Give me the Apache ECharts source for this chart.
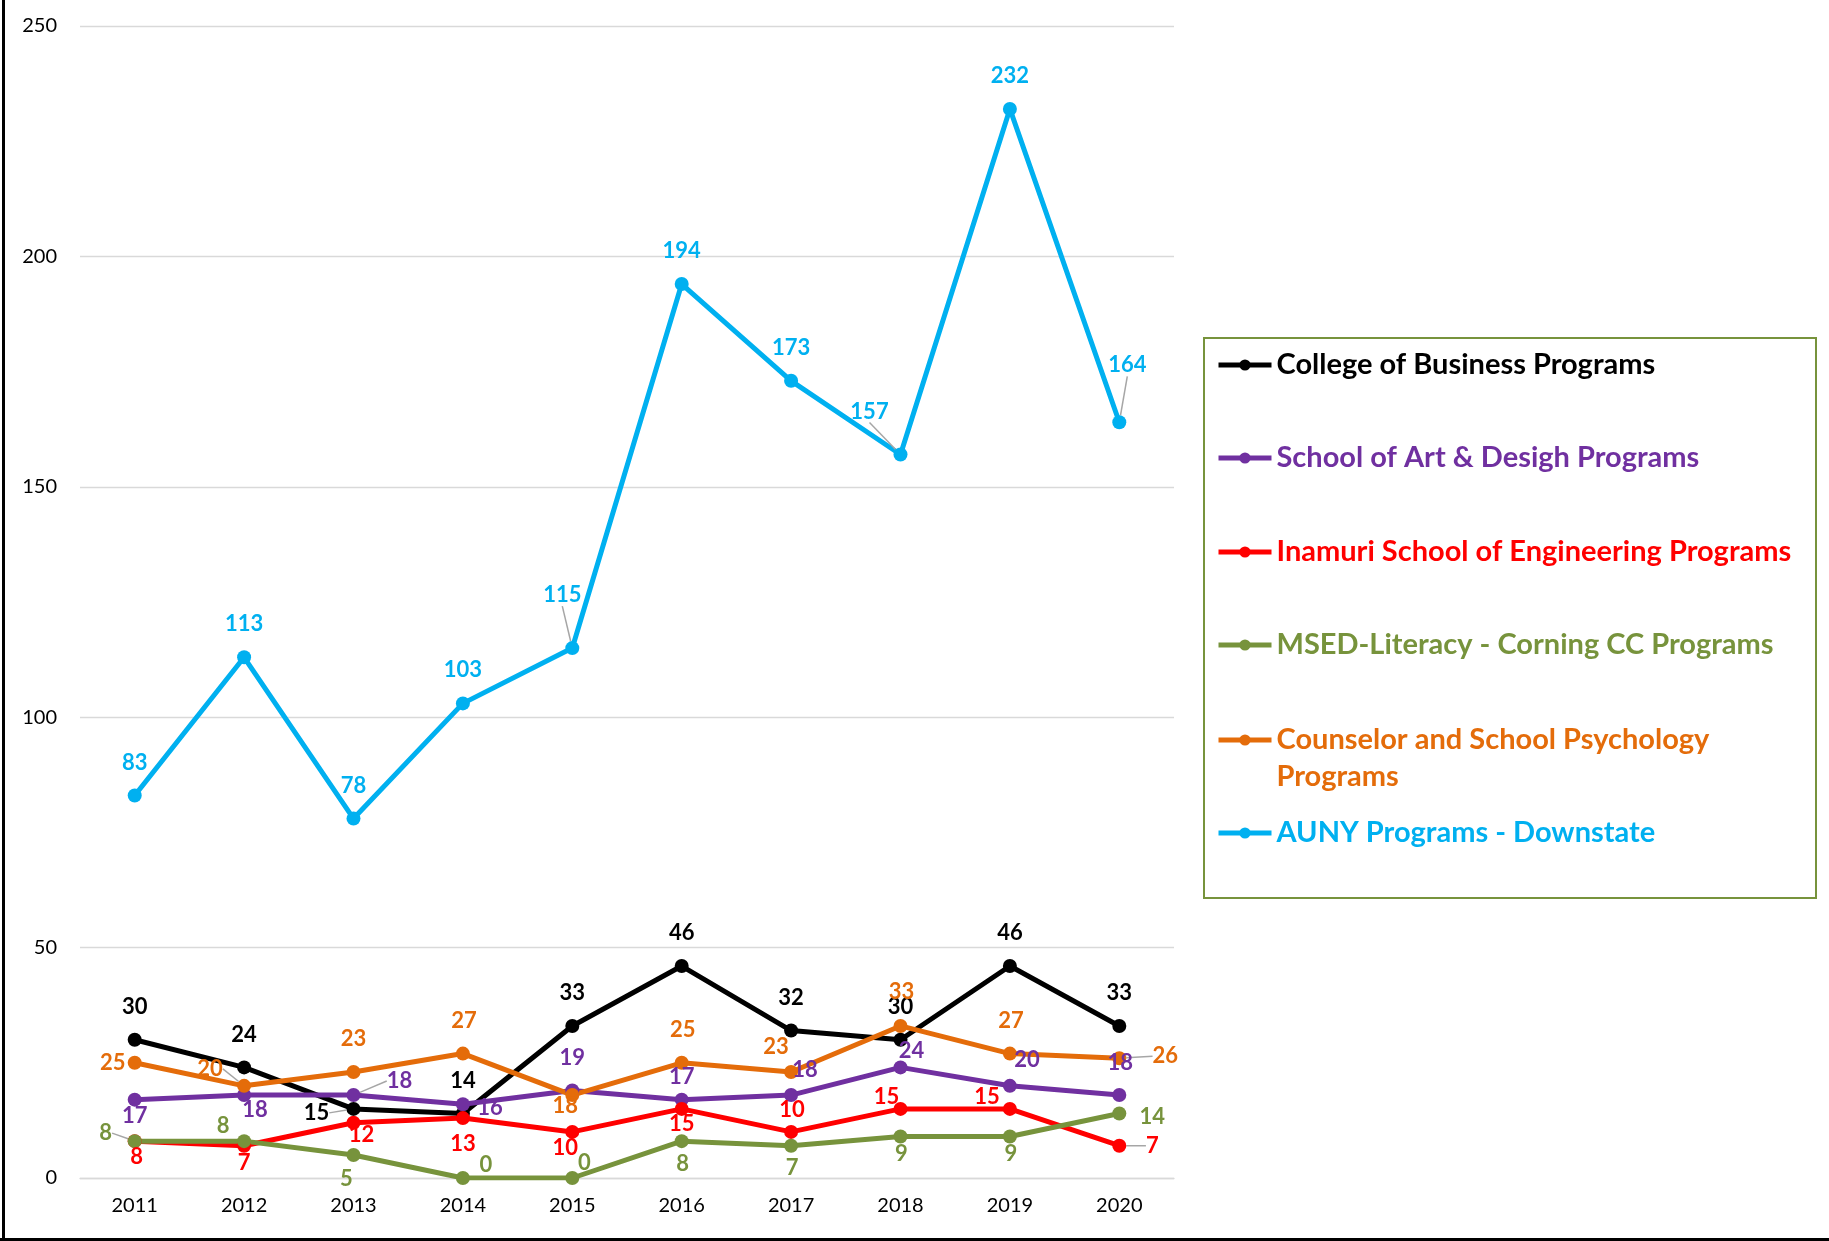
<!DOCTYPE html>
<html>
<head>
<meta charset="utf-8">
<script src="https://cdn.jsdelivr.net/npm/echarts@6/dist/echarts.min.js"></script>
<style>
  html, body { margin: 0; padding: 0; background: #fff; }
  #wrap { position: relative; width: 1829px; height: 1241px; }
  #chart { position: absolute; left: 0; top: 0; width: 1829px; height: 1241px; }
  #bl { position: absolute; left: 2px; top: 0; width: 3px; height: 1241px; background: #000; }
  #bb { position: absolute; left: 0; top: 1238px; width: 1829px; height: 3px; background: #000; }
</style>
</head>
<body>
<div id="wrap"><div id="chart"></div><div id="bl"></div><div id="bb"></div></div>
<script>
// ---------- DATA ----------
const categories = ['2011', '2012', '2013', '2014', '2015', '2016', '2017', '2018', '2019', '2020'];
const seriesNames = [
  'College of Business Programs',
  'School of Art & Desigh Programs',
  'Inamuri School of Engineering Programs',
  'MSED-Literacy - Corning CC Programs',
  'Counselor and School Psychology Programs',
  'AUNY Programs - Downstate'
];
const collegeBusiness = [30, 24, 15, 14, 33, 46, 32, 30, 46, 33];
const artDesign       = [17, 18, 18, 16, 19, 17, 18, 24, 20, 18];
const inamuriEng      = [8, 7, 12, 13, 10, 15, 10, 15, 15, 7];
const msedLiteracy    = [8, 8, 5, 0, 0, 8, 7, 9, 9, 14];
const counselorPsych  = [25, 20, 23, 27, 18, 25, 23, 33, 27, 26];
const aunyDownstate   = [83, 113, 78, 103, 115, 194, 173, 157, 232, 164];
const yAxisMin = 0, yAxisMax = 250, yAxisStep = 50;

// ---------- STYLE / LAYOUT ----------
const colors = ['#000000', '#7030A0', '#FF0000', '#77933C', '#E46C0A', '#00B0F0'];
const FONT = 'Lato';
// data label offsets (pixels, from marker centre), like Excel's manual label placement
const labelOffsets = [
  [[0,-33],[0,-33],[-37,4],[0,-33],[0,-33],[0,-33],[0,-33],[0,-33],[0,-33],[0,-33]],
  [[0,16],[11,15],[46,-14],[27,4],[0,-33],[0,-23],[14,-25],[11,-17],[17,-26],[1,-32]],
  [[2,16],[0,17],[8,12],[0,26],[-7,16],[0,15],[1,-22],[-14,-12],[-23,-12],[33,0]],
  [[-29,-8],[-21,-15],[-7,24],[23,-13],[12,-15],[1,23],[1,22],[1,17],[1,17],[33,3]],
  [[-22,0],[-34,-17],[0,-33],[1,-33],[-7,11],[1,-33],[-15,-25],[1,-34],[1,-33],[46,-2]],
  [[0,-33],[0,-33],[0,-33],[0,-33],[-10,-53],[0,-33],[0,-33],[-31,-43],[0,-33],[8,-57]]
];
const leaderIdx = [[2], [2], [9], [0], [1, 9], [4, 7, 9]];
const legendCenters = [365, 458, 552, 645, 740, 833];

const allValues = [collegeBusiness, artDesign, inamuriEng, msedLiteracy, counselorPsych, aunyDownstate];

const series = allValues.map((vals, s) => ({
  type: 'line',
  name: seriesNames[s],
  symbol: 'circle',
  symbolSize: 14,
  lineStyle: { color: colors[s], width: 5 },
  itemStyle: { color: colors[s] },
  label: {
    show: true,
    position: 'inside',
    color: colors[s],
    fontFamily: FONT,
    fontWeight: 'bold',
    fontSize: 22,
    textBorderWidth: 0
  },
  labelLayout: function (p) {
    const o = labelOffsets[p.seriesIndex][p.dataIndex];
    return { dx: o[0], dy: o[1] };
  },
  labelLine: { show: false, length2: 0, lineStyle: { color: '#a6a6a6', width: 1.5 } },
  emphasis: { disabled: true },
  data: vals.map((v, i) => ({
    value: v,
    labelLine: { show: leaderIdx[s].indexOf(i) >= 0 }
  }))
}));

const LH = 37;
const legends = seriesNames.map((name, s) => {
  const twoLine = (s === 4);
  return {
    data: [name],
    orient: 'vertical',
    left: 1216,
    top: twoLine ? legendCenters[s] - 1.5 * LH : legendCenters[s] - LH / 2,
    padding: 0,
    itemWidth: 53,
    itemHeight: 14,
    selectedMode: false,
    lineStyle: { width: 5 },
    formatter: twoLine ? '\nCounselor and School Psychology\nPrograms' : '{name}',
    textStyle: {
      color: colors[s],
      fontFamily: FONT,
      fontWeight: 'bold',
      fontSize: 29,
      lineHeight: LH
    }
  };
});

const chart = echarts.init(document.getElementById('chart'), null, { renderer: 'canvas' });
chart.setOption({
  animation: false,
  backgroundColor: '#ffffff',
  grid: { left: 80, right: 655, top: 26, bottom: 63, containLabel: false },
  xAxis: {
    type: 'category',
    data: categories,
    boundaryGap: true,
    axisLine: { show: true, lineStyle: { color: '#d9d9d9', width: 1.3 } },
    axisTick: { show: false },
    axisLabel: { color: '#000', fontFamily: FONT, fontSize: 20, margin: 18 }
  },
  yAxis: {
    type: 'value',
    min: yAxisMin, max: yAxisMax, interval: yAxisStep,
    axisLine: { show: false },
    axisTick: { show: false },
    axisLabel: { color: '#000', fontFamily: FONT, fontSize: 20, margin: 23 },
    splitLine: { lineStyle: { color: '#d9d9d9', width: 1.3 } }
  },
  legend: legends,
  graphic: [{
    type: 'rect',
    shape: { x: 1204, y: 338, width: 612, height: 560 },
    style: { fill: 'none', stroke: '#77933C', lineWidth: 2 },
    silent: true
  }],
  series: series
});
</script>
</body>
</html>
